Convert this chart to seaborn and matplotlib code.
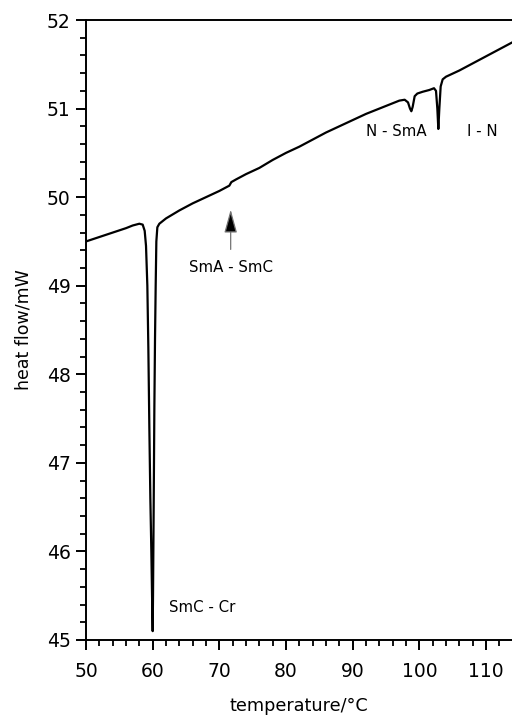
import matplotlib
matplotlib.use("Agg")
import matplotlib.pyplot as plt
import seaborn as sns
import pandas as pd
from matplotlib.ticker import MultipleLocator

temperature = [50, 52, 54, 56, 57, 58, 58.5, 58.8, 59.0, 59.2, 59.35, 59.5, 59.65, 59.8, 59.95, 60.0,
               60.05, 60.15, 60.25, 60.35, 60.45, 60.55, 60.7, 61.0, 62, 64, 66, 68, 70, 71, 71.5, 71.8,
               72.5, 74, 76, 78, 80, 82, 84, 86, 88, 90, 92, 94, 96, 97, 97.8, 98.3, 98.6, 98.8, 99.0,
               99.3, 99.7, 100.5, 101.5, 102.2, 102.5, 102.7, 102.85, 103.0, 103.2, 103.5, 104, 106,
               108, 110, 112, 114]
heat_flow = [49.50, 49.55, 49.60, 49.65, 49.68, 49.70, 49.69, 49.62, 49.45, 49.0, 48.3, 47.4, 46.6, 46.0,
             45.3, 45.1, 45.5, 46.5, 47.6, 48.4, 49.0, 49.5, 49.66, 49.70, 49.76, 49.85, 49.93, 50.00,
             50.07, 50.11, 50.13, 50.17, 50.20, 50.26, 50.33, 50.42, 50.50, 50.57, 50.65, 50.73, 50.80,
             50.87, 50.94, 51.00, 51.06, 51.09, 51.10, 51.07, 51.00, 50.97, 51.02, 51.14, 51.17, 51.19,
             51.21, 51.23, 51.20, 51.00, 50.77, 51.00, 51.25, 51.33, 51.36, 51.43, 51.51, 51.59, 51.67,
             51.75]

transition_labels = ["SmA - SmC", "N - SmA", "I - N", "SmC - Cr"]
label_x = [71.7, 96.6, 109.5, 62.5]
label_y = [49.21, 50.74, 50.74, 45.37]

sns.set_theme(style="ticks")
plt.rcParams['font.family'] = ['DejaVu Sans']
plt.rcParams['text.color'] = 'black'
plt.rcParams['axes.labelcolor'] = 'black'

df = pd.DataFrame({"temperature": temperature, "heat_flow": heat_flow})

fig = plt.figure(figsize=(5.12, 7.15), dpi=100)
ax = fig.add_axes([0.168, 0.1049, 0.832, 0.8671])
sns.lineplot(data=df, x="temperature", y="heat_flow", ax=ax, color="black", linewidth=1.6, sort=False)

ax.set_xlim(50, 113.9)
ax.set_ylim(45, 52)
ax.xaxis.set_major_locator(MultipleLocator(10))
ax.xaxis.set_minor_locator(MultipleLocator(2))
ax.yaxis.set_major_locator(MultipleLocator(1))
ax.yaxis.set_minor_locator(MultipleLocator(0.2))
ax.tick_params(axis="both", which="major", direction="out", length=7.5, width=1.4, labelsize=13.5,
               color="black", labelcolor="black")
ax.tick_params(axis="both", which="minor", direction="out", length=4.3, width=1.3, color="black")
ax.tick_params(axis="x", which="major", pad=8)
ax.tick_params(axis="y", which="major", pad=3.5)
for side in ["left", "bottom", "top"]:
    ax.spines[side].set_linewidth(1.4)
    ax.spines[side].set_color("black")
ax.spines["right"].set_visible(False)

ax.set_xlabel("temperature/°C", fontsize=12.7, color="black", labelpad=12)
ax.set_ylabel("heat flow/mW", fontsize=12.5, color="black", labelpad=10)

ax.text(label_x[0], label_y[0], transition_labels[0], ha="center", va="center", fontsize=10.8)
ax.text(label_x[1], label_y[1], transition_labels[1], ha="center", va="center", fontsize=10.8)
ax.text(label_x[2], label_y[2], transition_labels[2], ha="center", va="center", fontsize=10.8)
ax.text(label_x[3], label_y[3], transition_labels[3], ha="left", va="center", fontsize=10.8)

ax.annotate("", xy=(71.7, 49.86), xytext=(71.7, 49.41),
            arrowprops=dict(arrowstyle="-|>,head_length=1.2,head_width=0.33", fc="black", ec="0.45",
                            lw=0.9, shrinkA=0, shrinkB=0))

fig.savefig("out.png", dpi=100)
